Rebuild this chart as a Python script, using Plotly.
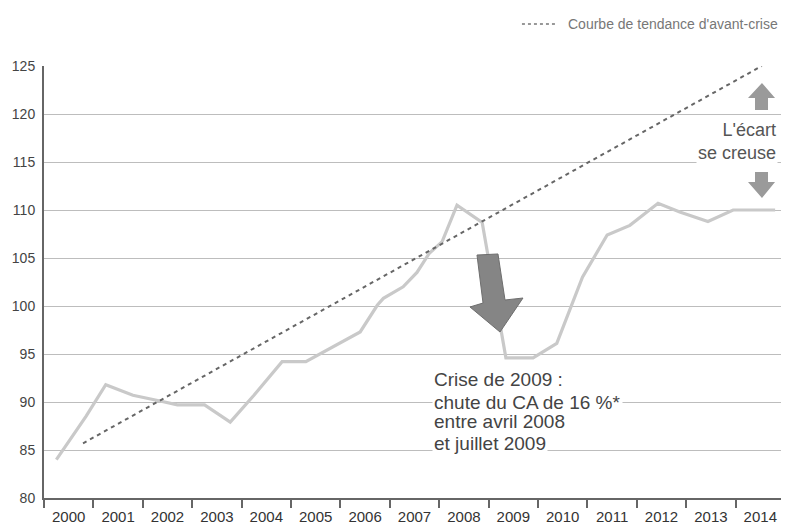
import plotly.graph_objects as go

# --- Data -------------------------------------------------------------
periodes = [2000.25, 2000.85, 2001.25, 2001.80, 2002.35, 2002.70, 2003.25, 2003.77,
            2004.25, 2004.82, 2005.30, 2005.55, 2006.00, 2006.40, 2006.75, 2006.87,
            2007.27, 2007.55, 2007.80, 2008.06, 2008.36, 2008.87, 2009.35, 2009.90,
            2010.38, 2010.90, 2011.40, 2011.86, 2012.43, 2012.87, 2013.44, 2013.95,
            2014.50, 2014.80]
indice_ca = [84.0, 88.5, 91.8, 90.7, 90.1, 89.7, 89.7, 87.9,
             90.7, 94.2, 94.2, 94.9, 96.1, 97.3, 100.1, 100.8,
             102.0, 103.5, 105.5, 106.7, 110.5, 108.7, 94.6, 94.6,
             96.1, 103.0, 107.4, 108.4, 110.7, 109.8, 108.8, 110.0,
             110.0, 110.0]

tendance_x = [2000.79, 2014.53]
tendance_y = [85.7, 125.0]

annees = [str(a) for a in range(2000, 2015)]
y_ticks = [80, 85, 90, 95, 100, 105, 110, 115, 120, 125]

FONT = "Liberation Sans, Arial, sans-serif"
TXT = "#444444"

fig = go.Figure()

fig.add_trace(go.Scatter(
    x=periodes, y=indice_ca, mode="lines",
    line=dict(color="#c9c9c9", width=3.2),
    showlegend=False, hoverinfo="skip"))

fig.add_trace(go.Scatter(
    x=tendance_x, y=tendance_y, mode="lines",
    line=dict(color="#666666", width=2, dash="4px,4px"),
    showlegend=False, hoverinfo="skip"))

# --- Decorative arrows and legend sample -------------------------------
shapes = [
    dict(type="path", xref="x", yref="y",
         path="M 2008.765,105.31 L 2009.19,105.42 L 2009.332,100.625 L 2009.696,100.83 "
              "L 2009.231,97.29 L 2008.623,99.90 L 2008.887,100.31 Z",
         fillcolor="#858585", line=dict(color="#6e6e6e", width=1), layer="above"),
    dict(type="path", xref="x", yref="y",
         path="M 2014.534,123.23 L 2014.798,121.67 L 2014.656,121.67 L 2014.656,120.42 "
              "L 2014.393,120.42 L 2014.393,121.67 L 2014.251,121.67 Z",
         fillcolor="#9a9a9a", line=dict(width=0), layer="above"),
    dict(type="path", xref="x", yref="y",
         path="M 2014.534,111.25 L 2014.798,112.92 L 2014.656,112.92 L 2014.656,113.96 "
              "L 2014.393,113.96 L 2014.393,112.92 L 2014.251,112.92 Z",
         fillcolor="#9a9a9a", line=dict(width=0), layer="above"),
    dict(type="line", xref="paper", yref="paper", x0=0.645, x1=0.691, y0=1.097, y1=1.097,
         line=dict(color="#777777", width=1.5, dash="3px,3px")),
]

annotations = [
    dict(x=0.991, xref="paper", y=117.1, yref="y", xanchor="right", yanchor="middle",
         text="L'écart<br>se creuse", align="right", showarrow=False,
         font=dict(family=FONT, size=18, color="#555555"), bgcolor="white", borderpad=1),
    dict(x=0.993, xref="paper", y=1.097, yref="paper", xanchor="right", yanchor="middle",
         text="Courbe de tendance d'avant-crise", showarrow=False,
         font=dict(family=FONT, size=14, color="#777777")),
]

crise_lines = [
    ("Crise de 2009 :", 92.3),
    ("chute du CA de 16 %*", 90.0),
    ("entre avril 2008", 88.0),
    ("et juillet 2009", 85.7),
]
for txt, yy in crise_lines:
    annotations.append(dict(
        x=2007.85, xref="x", y=yy, yref="y", xanchor="left", yanchor="middle",
        text=txt, showarrow=False, bgcolor="white", borderpad=1,
        font=dict(family=FONT, size=19, color=TXT)))

# page body adds an 8px offset: size/margins compensate for it
fig.update_layout(
    width=781, height=520,
    margin=dict(l=36, r=4, t=58, b=30),
    paper_bgcolor="white", plot_bgcolor="white",
    font=dict(family=FONT, color=TXT),
    shapes=shapes, annotations=annotations,
    showlegend=False,
)

fig.update_xaxes(
    range=[2000, 2015],
    tickvals=[a + 0.5 for a in range(2000, 2015)], ticktext=annees,
    ticks="", showgrid=False, zeroline=False,
    showline=True, linecolor="#666666", linewidth=2,
    ticklabelstandoff=4,
    tickfont=dict(family=FONT, size=15, color="#333333"),
    minor=dict(tickvals=list(range(2000, 2016)), ticks="outside", ticklen=8,
               tickwidth=1.5, tickcolor="#666666", showgrid=False),
    fixedrange=True,
)
fig.update_yaxes(
    range=[80, 125], tickvals=y_ticks,
    showgrid=True, gridcolor="#bdbdbd", gridwidth=1, zeroline=False,
    showline=True, linecolor="#666666", linewidth=2,
    ticks="", ticklabelstandoff=4,
    tickfont=dict(family=FONT, size=14, color="#444444"),
    fixedrange=True,
)

fig.write_html("out.html")
